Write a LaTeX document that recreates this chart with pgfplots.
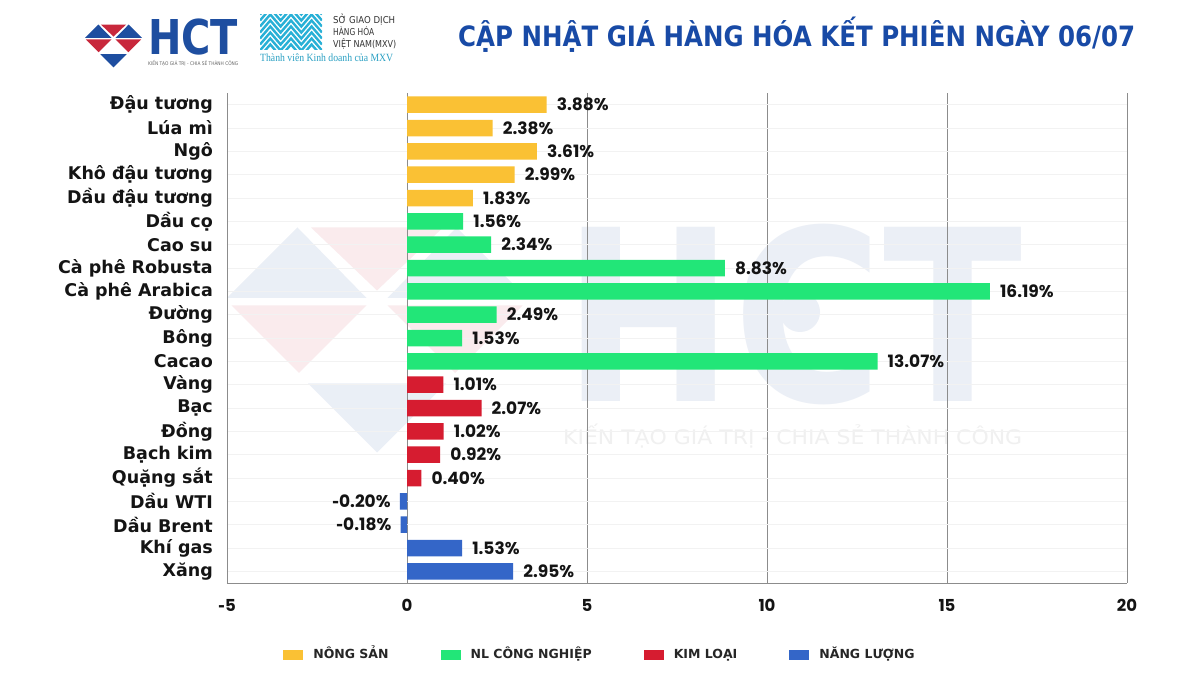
\documentclass[border=0pt]{standalone}
\usepackage{fontspec}
\usepackage{graphicx}
\usepackage{pgfplots}
\pgfplotsset{compat=1.18}
\setmainfont{DejaVu Sans}
\newfontfamily\numfont{Poppins}
\newfontfamily\seriffont{Liberation Serif}

\definecolor{nongsan}{RGB}{250,193,52}
\definecolor{congnghiep}{RGB}{34,230,120}
\definecolor{kimloai}{RGB}{214,28,48}
\definecolor{nangluong}{RGB}{52,102,200}
\definecolor{hctblue}{RGB}{30,78,160}
\definecolor{hctred}{RGB}{200,40,60}
\definecolor{titleblue}{RGB}{24,74,166}
\definecolor{mxvcyan}{RGB}{40,176,214}
\definecolor{mxvteal}{RGB}{42,160,195}
\definecolor{gridgray}{RGB}{140,140,140}
\definecolor{labelblack}{RGB}{20,20,20}

% scale a box horizontally to a given width
\newsavebox\fitbox
\newlength\fitlen
\newcommand\fitwidth[2]{\sbox\fitbox{#2}\setlength\fitlen{\wd\fitbox}%
  \pgfmathsetmacro\fitf{#1/\fitlen}\scalebox{\fitf}[1]{\usebox\fitbox}}
% short hyphen used as the minus sign
\newcommand\shortminus{{\rmfamily -}}

% HCT gem mark in unit coordinates (half-width 1)
\newcommand\gem[2]{%
  \fill[#1] (-0.53,0.47) -- (-1,0) -- (-0.07,0) -- cycle;
  \fill[#2] (-0.44,0.47) -- (0.44,0.47) -- (0,0.05) -- cycle;
  \fill[#1] (0.53,0.47) -- (1,0) -- (0.07,0) -- cycle;
  \fill[#2] (-0.97,-0.05) -- (-0.07,-0.05) -- (-0.52,-0.5) -- cycle;
  \fill[#2] (0.97,-0.05) -- (0.07,-0.05) -- (0.52,-0.5) -- cycle;
  \fill[#1] (-0.46,-0.57) -- (0.46,-0.57) -- (0,-1.03) -- cycle;
}

\begin{document}
\begin{tikzpicture}[x=1pt,y=1pt]
\path[use as bounding box, fill=white] (0,0) rectangle (1200,675);

% ---- faint background brand mark ----
\begin{scope}[shift={(377,377)}, scale=150, fill opacity=0.09]
  \gem{hctblue}{hctred}
\end{scope}
\node[anchor=base west, inner sep=0pt, text=hctblue!9] at (563,273)
  {\fitwidth{459pt}{\fontsize{239}{239}\selectfont\bfseries HCT}};
\fill[hctblue!9] (800,363) circle (20);
\node[anchor=base west, inner sep=0pt, text=black!6] at (563,230)
  {\fitwidth{459pt}{\fontsize{20}{20}\selectfont KIẾN TẠO GIÁ TRỊ - CHIA SẺ THÀNH CÔNG}};

% ---- header: HCT logo ----
\begin{scope}[shift={(113.5,637)}, scale=28.5]
  \gem{hctblue}{hctred}
\end{scope}
\node[anchor=base west, inner sep=0pt, text=hctblue] at (148,620)
  {\fitwidth{90pt}{\fontsize{48}{48}\selectfont\bfseries HCT}};
\node[anchor=base west, inner sep=0pt, text=black!60] at (148,609)
  {\fitwidth{90pt}{\fontsize{5}{5}\selectfont KIẾN TẠO GIÁ TRỊ - CHIA SẺ THÀNH CÔNG}};

% ---- header: MXV logo ----
\begin{scope}[shift={(260,625)}]
  \clip (0,0) rectangle (62,35);
  \foreach \k in {-12,-6,0,6,12,18,24,30} {
    \draw[mxvcyan, line width=2.4pt, line join=miter]
      (0,17.5+\k-12) -- (10.3,17.5+\k) -- (20.6,17.5+\k-12) -- (31,17.5+\k)
      -- (41.3,17.5+\k-12) -- (51.6,17.5+\k) -- (62,17.5+\k-12);
  }
\end{scope}
\node[anchor=base west, inner sep=0pt, text=black!80] at (333,651)
  {\fitwidth{62pt}{\fontsize{9.5}{9.5}\selectfont SỞ GIAO DỊCH}};
\node[anchor=base west, inner sep=0pt, text=black!80] at (333,639)
  {\fitwidth{41pt}{\fontsize{9.5}{9.5}\selectfont HÀNG HÓA}};
\node[anchor=base west, inner sep=0pt, text=black!80] at (333,627)
  {\fitwidth{63pt}{\fontsize{9.5}{9.5}\selectfont VIỆT NAM(MXV)}};
\node[anchor=base west, inner sep=0pt, text=mxvteal] at (260,613)
  {\fitwidth{133pt}{\seriffont\fontsize{11}{11}\selectfont Thành viên Kinh doanh của MXV}};

% ---- title ----
\node[anchor=base west, inner sep=0pt, text=titleblue] at (458,628)
  {\fitwidth{677pt}{\fontsize{28}{28}\selectfont\bfseries CẬP NHẬT GIÁ HÀNG HÓA KẾT PHIÊN NGÀY 06/07}};

% ---- chart ----
\begin{axis}[
  at={(227pt,92pt)}, anchor=south west,
  scale only axis, width=900pt, height=490pt,
  xmin=-5, xmax=20, ymin=-0.5, ymax=20.5, y dir=reverse,
  xbar, bar width=16.5pt,
  every axis plot/.append style={bar shift=0pt, draw=none},
  xtick={-5,0,5,10,15,20}, xticklabels={\shortminus5,0,5,10,15,20},
  ytick={0,...,20},
  yticklabels={Đậu tương, Lúa mì, Ngô, Khô đậu tương, Dầu đậu tương, Dầu cọ,
    Cao su, Cà phê Robusta, Cà phê Arabica, Đường, Bông, Cacao, Vàng, Bạc,
    Đồng, Bạch kim, Quặng sắt, Dầu WTI, Dầu Brent, Khí gas, Xăng},
  xmajorgrids, ymajorgrids,
  x grid style={draw=gridgray, line width=0.9pt},
  y grid style={draw=black!5, line width=0.8pt},
  axis x line*=bottom, axis y line*=left,
  axis line style={-, draw=gridgray, line width=0.9pt},
  major tick length=0pt, tick style={draw=none},
  xticklabel style={font=\numfont\bfseries\fontsize{16.5}{16.5}\selectfont, text=labelblack,
    anchor=north, inner sep=0pt, yshift=-16pt},
  yticklabel style={font=\bfseries\fontsize{17.5}{17.5}\selectfont, text=labelblack,
    anchor=east, inner sep=0pt, xshift=-14pt},
  /pgf/number format/.cd, fixed, fixed zerofill, precision=2, assume math mode=true,
  /pgfplots/.cd,
  point meta=x,
  nodes near coords={\pgfmathprintnumber{\pgfplotspointmeta}\%},
  every node near coord/.append style={font=\numfont\bfseries\fontsize{17}{17}\selectfont,
    text=labelblack, anchor=west, inner sep=0pt, xshift=10pt},
  legend columns=4,
  legend image code/.code={\fill[#1, draw=none] (0pt,-5pt) rectangle (20pt,5pt);},
  legend style={at={(0.4133,-0.1469)}, anchor=center, draw=none, fill=none,
    font=\bfseries\fontsize{12.5}{12.5}\selectfont, text=black!85,
    nodes={inner sep=0pt},
    /tikz/every odd column/.append style={column sep=10pt},
    /tikz/every even column/.append style={column sep=52pt, text height=9pt, text depth=2.5pt}},
]
% agricultural
\addplot[fill=nongsan] coordinates {(3.88,0) (2.38,1) (3.61,2) (2.99,3) (1.83,4)};
\addlegendentry{NÔNG SẢN}
% industrial raw materials
\addplot[fill=congnghiep] coordinates {(1.56,5) (2.34,6) (8.83,7) (16.19,8) (2.49,9) (1.53,10) (13.07,11)};
\addlegendentry{NL CÔNG NGHIỆP}
% metals
\addplot[fill=kimloai] coordinates {(1.01,12) (2.07,13) (1.02,14) (0.92,15) (0.40,16)};
\addlegendentry{KIM LOẠI}
% energy
\addplot[fill=nangluong] coordinates {(1.53,19) (2.95,20)};
\addlegendentry{NĂNG LƯỢNG}
% energy, falling prices: label on the left, written with a short hyphen
\addplot[fill=nangluong, forget plot, point meta={-x},
  nodes near coords={\shortminus\pgfmathprintnumber{\pgfplotspointmeta}\%},
  every node near coord/.append style={anchor=east, xshift=-19pt}]
  coordinates {(-0.20,17) (-0.18,18)};
\end{axis}
\end{tikzpicture}
\end{document}
